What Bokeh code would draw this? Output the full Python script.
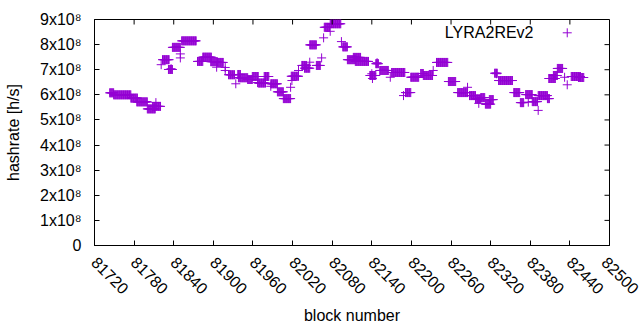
import math
from bokeh.plotting import figure
from bokeh.models import Range1d, FixedTicker, Label, ColumnDataSource
from bokeh.embed import file_html
from bokeh.resources import INLINE

# ---- data (hashrate in units of 1e8 h/s) ----
# runs of consecutive blocks with constant hashrate
run_start = [81743, 81749, 81775, 81784, 81800, 81808, 81823, 81832, 81838, 81852,
             81876, 81884, 81896, 81906, 81923, 81937, 81938, 81952, 81959, 81968,
             81977, 81987, 81997, 82006, 82018, 82034, 82038, 82046, 82056, 82068,
             82077, 82096, 82103, 82112, 82115, 82137, 82146, 82152, 82170, 82191,
             82199, 82214, 82218, 82238, 82256, 82270, 82288, 82297, 82305, 82312,
             82318, 82326, 82332, 82355, 82365, 82373, 82383, 82392, 82406, 82408,
             82415, 82421, 82442, 82453]
run_end = [81749, 81775, 81785, 81800, 81812, 81820, 81833, 81838, 81850, 81874,
           81884, 81897, 81906, 81915, 81932, 81941, 81952, 81959, 81968, 81979,
           81984, 81997, 82006, 82017, 82029, 82041, 82046, 82056, 82062, 82076,
           82093, 82103, 82115, 82123, 82135, 82146, 82150, 82165, 82190, 82199,
           82211, 82218, 82232, 82255, 82267, 82285, 82297, 82305, 82311, 82320,
           82324, 82330, 82353, 82364, 82370, 82383, 82391, 82406, 82409, 82418,
           82421, 82429, 82456, 82461]
run_value = [6.08, 6.00, 5.87, 5.72, 5.44, 5.54, 7.40, 7.01, 7.89, 8.15,
             7.33, 7.50, 7.32, 7.29, 6.80, 6.81, 6.68, 6.61, 6.73, 6.47,
             6.73, 6.44, 6.12, 5.85, 6.74, 7.17, 7.06, 7.99, 7.17, 8.69,
             8.83, 7.91, 7.40, 7.49, 7.33, 6.77, 7.24, 6.97, 6.89, 6.09,
             6.70, 6.85, 6.77, 7.29, 6.53, 6.09, 5.97, 5.84, 5.89, 5.63,
             5.81, 6.86, 6.57, 6.09, 5.69, 6.01, 5.73, 5.97, 5.85, 6.65,
             6.77, 7.05, 6.73, 6.69]
# isolated blocks
pt_block = [81813, 81821, 81836, 81850, 81850, 81905, 81918, 81918, 81934, 81967,
            81987, 82017, 82019, 82029, 82046, 82064, 82067, 82077, 82094, 82148,
            82140, 82141, 82168, 82188, 82233, 82285, 82302, 82329, 82377, 82392,
            82432, 82436]
pt_value = [5.69, 7.20, 7.04, 7.63, 7.47, 7.10, 7.09, 6.97, 6.44, 6.49,
            6.34, 6.30, 6.57, 6.97, 7.30, 7.47, 8.27, 8.53, 8.12, 7.28,
            6.84, 6.65, 6.70, 5.97, 6.97, 6.30, 5.66, 6.84, 5.71, 5.38,
            6.70, 6.40]

series_name = "LYRA2REv2"
x_ticks = list(range(81720, 82501, 60))
y_tick_vals = [0, 1, 2, 3, 4, 5, 6, 7, 8, 9]
y_tick_labels = ["0", "1x10\u2078", "2x10\u2078", "3x10\u2078", "4x10\u2078",
                 "5x10\u2078", "6x10\u2078", "7x10\u2078", "8x10\u2078", "9x10\u2078"]

# ---- build per-block points ----
blocks = []
values = []
for s, e, v in zip(run_start, run_end, run_value):
    for b in range(s, e + 1):
        blocks.append(b)
        values.append(v * 1e8)
for b, v in zip(pt_block, pt_value):
    blocks.append(b)
    values.append(v * 1e8)
src = ColumnDataSource(dict(x=blocks, y=values))

FONT = "Liberation Sans"
FS = "16px"
COLOR = "#9400D3"

W, H = 640, 330
BL, BR, BT, BB = 94, 31, 19, 85
X0, X1 = 81720, 82500
Y0, Y1 = 0, 9e8
TICK = 5

p = figure(width=W, height=H, output_backend="svg", toolbar_location=None,
           x_range=Range1d(X0, X1), y_range=Range1d(Y0, Y1),
           min_border_left=BL, min_border_right=BR, min_border_top=BT, min_border_bottom=BB)
p.grid.visible = False
p.outline_line_color = "black"
p.outline_line_width = 1
p.background_fill_color = "white"
p.border_fill_color = "white"

p.scatter("x", "y", source=src, marker="cross", size=9, line_color=COLOR, line_width=1)

# x axis
xa = p.xaxis[0]
xa.ticker = FixedTicker(ticks=x_ticks)
xa.major_label_orientation = -math.pi / 4
xa.major_label_text_font = FONT
xa.major_label_text_font_size = FS
xa.major_label_text_color = "black"
xa.major_label_standoff = 14
xa.major_tick_in = TICK
xa.major_tick_out = 0
xa.minor_tick_line_color = None
xa.axis_line_color = "black"
xa.major_tick_line_color = "black"
xa.axis_label = "block number"
xa.axis_label_text_font = FONT
xa.axis_label_text_font_size = FS
xa.axis_label_text_font_style = "normal"
xa.axis_label_text_color = "black"
xa.axis_label_standoff = 5

# y axis
ya = p.yaxis[0]
ya.ticker = FixedTicker(ticks=[v * 1e8 for v in y_tick_vals])
ya.major_label_overrides = {v * 1e8: t for v, t in zip(y_tick_vals, y_tick_labels)}
ya.major_label_text_font = FONT
ya.major_label_text_font_size = FS
ya.major_label_text_color = "black"
ya.major_label_standoff = 13
ya.major_tick_in = TICK
ya.major_tick_out = 0
ya.minor_tick_line_color = None
ya.axis_line_color = "black"
ya.major_tick_line_color = "black"
ya.axis_label = "hashrate [h/s]"
ya.axis_label_text_font = FONT
ya.axis_label_text_font_size = FS
ya.axis_label_text_font_style = "normal"
ya.axis_label_text_color = "black"
ya.axis_label_standoff = 15

# mirrored ticks on the top and right edges of the frame
plot_w = W - BL - BR
plot_h = H - BT - BB
dy = TICK * (Y1 - Y0) / plot_h
dx = TICK * (X1 - X0) / plot_w
p.segment(x0=x_ticks, y0=[Y1] * len(x_ticks), x1=x_ticks, y1=[Y1 - dy] * len(x_ticks),
          line_color="black", line_width=1)
yt = [v * 1e8 for v in y_tick_vals]
p.segment(x0=[X1] * len(yt), y0=yt, x1=[X1 - dx] * len(yt), y1=yt,
          line_color="black", line_width=1)

# key (text then sample, gnuplot style)
p.add_layout(Label(x=439, y=213, x_units="screen", y_units="screen", text=series_name,
                   text_align="right", text_baseline="middle",
                   text_font=FONT, text_font_size=FS, text_color="black"))
p.scatter(x=[82436], y=[8.47e8], marker="cross", size=9, line_color=COLOR, line_width=1)

open("out.html", "w").write(file_html(p, INLINE))
